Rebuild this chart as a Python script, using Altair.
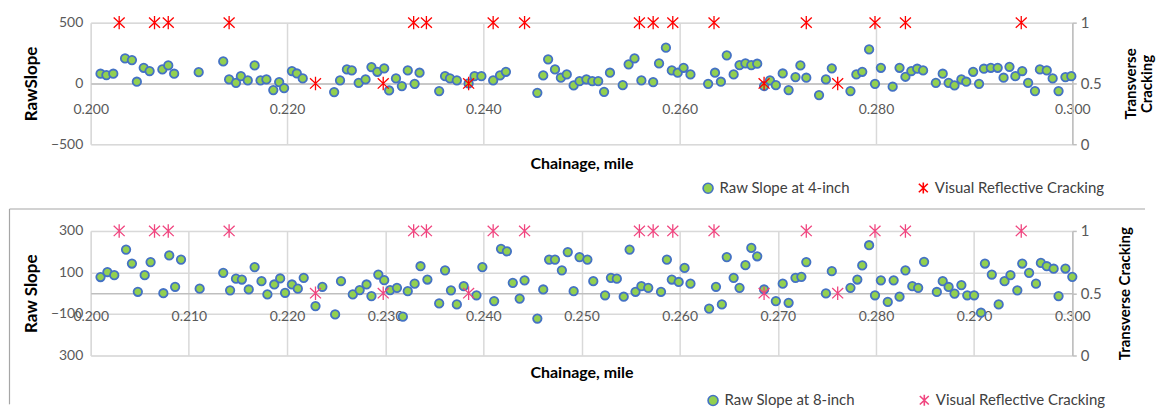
import altair as alt
import pandas as pd

# ---------------- data ----------------
top_ch = [0.2010, 0.2016, 0.2023, 0.2035, 0.2042, 0.2047, 0.2054, 0.2060, 0.2073, 0.2079,
          0.2085, 0.2110, 0.2135, 0.2141, 0.2148, 0.2153, 0.2160, 0.2167, 0.2173, 0.2179,
          0.2186, 0.2192, 0.2197, 0.2205, 0.2210, 0.2216, 0.2248, 0.2254, 0.2261, 0.2266,
          0.2273, 0.2280, 0.2286, 0.2292, 0.2299, 0.2304, 0.2311, 0.2317, 0.2323, 0.2330,
          0.2335, 0.2355, 0.2361, 0.2366, 0.2373, 0.2385, 0.2391, 0.2398, 0.2410, 0.2417,
          0.2423, 0.2455, 0.2461, 0.2466, 0.2473, 0.2479, 0.2485, 0.2492, 0.2498, 0.2505,
          0.2511, 0.2517, 0.2523, 0.2529, 0.2542, 0.2548, 0.2554, 0.2561, 0.2573, 0.2579,
          0.2586, 0.2592, 0.2598, 0.2604, 0.2611, 0.2629, 0.2636, 0.2642, 0.2648, 0.2655,
          0.2661, 0.2667, 0.2673, 0.2679, 0.2686, 0.2692, 0.2698, 0.2705, 0.2711, 0.2718,
          0.2723, 0.2729, 0.2742, 0.2749, 0.2755, 0.2774, 0.2780, 0.2786, 0.2793, 0.2799,
          0.2805, 0.2817, 0.2824, 0.2830, 0.2836, 0.2842, 0.2848, 0.2861, 0.2868, 0.2874,
          0.2880, 0.2887, 0.2892, 0.2899, 0.2905, 0.2910, 0.2917, 0.2924, 0.2930, 0.2936,
          0.2942, 0.2949, 0.2955, 0.2962, 0.2967, 0.2974, 0.2980, 0.2986, 0.2993, 0.2999]
top_slope = [80, 69, 80, 206, 192, 14, 129, 102, 115, 148,
             80, 93, 181, 33, 5, 60, 25, 148, 25, 33,
             -55, 11, -38, 102, 82, 41, -71, 25, 115, 107,
             5, 33, 135, 96, 124, -58, 41, -22, 107, -3,
             88, -63, 60, 41, 25, 0, 60, 60, 25, 66,
             96, -77, 66, 198, 115, 47, 74, -16, 19, 33,
             19, 19, -69, 88, -14, 157, 206, 25, 11, 165,
             294, 107, 88, 129, 74, -3, 88, 14, 231, 74,
             151, 165, 151, 162, -22, 25, -14, 82, -55, 52,
             148, 47, -96, 33, 124, -63, 74, 96, 280, -3,
             129, -27, 129, 55, 102, 121, 107, 5, 80, 5,
             -16, 33, 14, 96, -3, 121, 129, 129, 47, 137,
             60, 102, 5, -63, 115, 107, 41, -63, 52, 60]

bot_ch = [0.2010, 0.2017, 0.2024, 0.2036, 0.2042, 0.2048, 0.2055, 0.2061, 0.2074, 0.2080,
          0.2086, 0.2092, 0.2111, 0.2135, 0.2142, 0.2148, 0.2154, 0.2161, 0.2167, 0.2174,
          0.2180, 0.2187, 0.2193, 0.2198, 0.2205, 0.2211, 0.2217, 0.2229, 0.2236, 0.2249,
          0.2255, 0.2267, 0.2274, 0.2281, 0.2286, 0.2293, 0.2299, 0.2305, 0.2312, 0.2318,
          0.2323, 0.2330, 0.2336, 0.2343, 0.2355, 0.2361, 0.2367, 0.2373, 0.2380, 0.2393,
          0.2399, 0.2411, 0.2418, 0.2424, 0.2430, 0.2437, 0.2442, 0.2455, 0.2461, 0.2467,
          0.2473, 0.2480, 0.2486, 0.2492, 0.2498, 0.2506, 0.2512, 0.2524, 0.2530, 0.2536,
          0.2543, 0.2549, 0.2555, 0.2561, 0.2568, 0.2581, 0.2587, 0.2592, 0.2599, 0.2605,
          0.2611, 0.2630, 0.2637, 0.2643, 0.2648, 0.2655, 0.2661, 0.2667, 0.2673, 0.2679,
          0.2686, 0.2698, 0.2705, 0.2711, 0.2718, 0.2724, 0.2729, 0.2749, 0.2755, 0.2774,
          0.2781, 0.2786, 0.2793, 0.2799, 0.2805, 0.2812, 0.2818, 0.2824, 0.2830, 0.2837,
          0.2843, 0.2849, 0.2862, 0.2868, 0.2874, 0.2880, 0.2887, 0.2893, 0.2900, 0.2907,
          0.2911, 0.2918, 0.2925, 0.2931, 0.2937, 0.2944, 0.2949, 0.2956, 0.2963, 0.2968,
          0.2974, 0.2981, 0.2986, 0.2993, 0.3000]
bot_slope = [78, 102, 87, 210, 143, 7, 87, 150, 0, 182,
             31, 162, 22, 98, 14, 70, 66, 18, 126, 58,
             -6, 42, 71, 2, 42, 22, 74, -62, 31, -102,
             58, -6, 15, 42, -14, 90, 63, 15, 26, -113,
             10, 46, 130, 66, -49, 110, 14, -54, 34, -10,
             126, -38, 214, 202, 50, -26, 62, -122, 18, 162,
             162, 110, 198, 10, 174, 162, 58, -10, 74, 70,
             -17, 210, 7, 34, 26, 7, 162, 66, 54, 122,
             46, -74, 31, -54, 174, 74, 26, 135, 218, 178,
             18, -38, 46, -46, 74, 79, 150, -1, 106, 26,
             66, 134, 231, -10, 62, -42, 62, -17, 110, 34,
             26, 151, 6, 58, 30, -2, 39, -10, -10, -94,
             143, 90, -54, 58, 87, 14, 143, 98, 46, 146,
             130, 118, -14, 119, 79]

crack_ch = [0.2029, 0.2065, 0.2079, 0.2141, 0.2229, 0.2298, 0.2329, 0.2342, 0.2385, 0.2410,
            0.2442, 0.2559, 0.2573, 0.2593, 0.2635, 0.2686, 0.2729, 0.2761, 0.2799, 0.2830,
            0.2948]
crack_val = [1, 1, 1, 1, 0.5, 0.5, 1, 1, 0.5, 1,
             1, 1, 1, 1, 1, 0.5, 1, 0.5, 1, 1,
             1]

top_x_ticks = [0.20, 0.22, 0.24, 0.26, 0.28, 0.30]
bot_x_ticks = [0.20, 0.21, 0.22, 0.23, 0.24, 0.25, 0.26, 0.27, 0.28, 0.29, 0.30]
top_y_ticks = [-500, 0, 500]
bot_y_ticks = [-300, -100, 100, 300]
crack_ticks = [0, 0.5, 1]
CRACK_NAME = "Visual Reflective Cracking"

# ---------------- style ----------------
FONT = "Lato"
GRID = "#D9D9D9"
AXC = "#BFBFBF"
LBL = "#595959"
STAR = "M-0.9,-0.85L0.9,0.85M-0.9,0.85L0.9,-0.85M0,-1.1L0,1.1"
PLOT_W = 985


def panel(ch, slope, series_name, y_title, y_dom, y_ticks, x_ticks, plot_h,
          crack_color, right_title, r_title_pad, x_lab_pad, x_title_pad,
          leg_x, leg_y, col_pad, y_label_expr=None, frame=False):
    pts = pd.DataFrame({"ch": ch, "v": slope, "series": series_name})
    cr = pd.DataFrame({"ch": crack_ch, "c": crack_val, "series": CRACK_NAME})
    dom = [series_name, CRACK_NAME]

    legend = alt.Legend(orient="none", legendX=leg_x, legendY=leg_y,
                        direction="horizontal", title=None, labelFont=FONT,
                        labelFontSize=15, labelColor="#404040", labelLimit=400,
                        columnPadding=col_pad, symbolSize=100,
                        symbolStrokeWidth=1.6, symbolOpacity=1, labelOffset=4,
                        padding=0)
    fill = alt.Fill("series:N", scale=alt.Scale(domain=dom, range=["#92D050", "transparent"]),
                    legend=legend)
    stroke = alt.Stroke("series:N", scale=alt.Scale(domain=dom, range=["#4472C4", crack_color]),
                        legend=legend)
    shape = alt.Shape("series:N", scale=alt.Scale(domain=dom, range=["circle", STAR]),
                      legend=legend)

    x_scale = alt.Scale(domain=[0.2, 0.3], nice=False, zero=False)
    x_offset = -plot_h / 2.0
    x_axis = alt.Axis(values=x_ticks, format=".3f", title="Chainage, mile",
                      offset=x_offset, ticks=False, domain=True, domainColor=AXC,
                      domainWidth=1.5, grid=True, gridColor=GRID, gridWidth=1.5,
                      labelOverlap=False, labelFlush=False, labelPadding=x_lab_pad,
                      labelFont=FONT, labelFontSize=14, labelColor=LBL,
                      titleFont=FONT, titleFontSize=16, titleFontWeight="bold",
                      titleColor="#000000", titlePadding=x_title_pad)
    y_kw = dict(values=y_ticks, title=y_title, ticks=False, domain=False, grid=True,
                gridColor=GRID, gridWidth=1.5, labelPadding=8, labelFont=FONT,
                labelFontSize=14, labelColor=LBL, titleFont=FONT, titleFontSize=17,
                titleFontWeight="bold", titleColor="#000000", titlePadding=10)
    if y_label_expr:
        y_kw["labelExpr"] = y_label_expr
    y_axis = alt.Axis(**y_kw)

    r_axis = alt.Axis(orient="right", values=crack_ticks, format="~g", title=right_title,
                      titleAngle=270, titleBaseline="top", ticks=True, tickSize=4,
                      tickColor=AXC, tickWidth=1.5, domain=True, domainColor=AXC,
                      domainWidth=1.5, grid=False, labelPadding=4, labelFont=FONT,
                      labelFontSize=15, labelColor=LBL, titleFont=FONT,
                      titleFontSize=15, titleFontWeight="bold", titleColor="#000000",
                      titlePadding=r_title_pad, titleLineHeight=17)

    x_enc = alt.X("ch:Q", scale=x_scale, axis=x_axis)
    pts_layer = alt.Chart(pts).mark_point(size=72, strokeWidth=1.8, opacity=1).encode(
        x=x_enc,
        y=alt.Y("v:Q", scale=alt.Scale(domain=y_dom, nice=False), axis=y_axis),
        fill=fill, stroke=stroke, shape=shape,
    )
    crack_layer = alt.Chart(cr).mark_point(size=150, strokeWidth=1.3, opacity=1).encode(
        x=x_enc,
        y=alt.Y("c:Q", scale=alt.Scale(domain=[0, 1], nice=False), axis=r_axis),
        fill=fill, stroke=stroke, shape=shape,
    )
    layers = [pts_layer, crack_layer]
    if frame:
        one = pd.DataFrame({"k": [0]})
        layers.append(alt.Chart(one).mark_rule(color="#A6A6A6", strokeWidth=1.2).encode(
            x=alt.value(-81.5), x2=alt.value(1058), y=alt.value(-22)))
        layers.append(alt.Chart(one).mark_rule(color="#A6A6A6", strokeWidth=1.2).encode(
            x=alt.value(-81.5), y=alt.value(-22), y2=alt.value(174)))
    return alt.layer(*layers).resolve_scale(y="independent").properties(
        width=PLOT_W, height=plot_h)


top = panel(top_ch, top_slope, "Raw Slope at 4-inch", "RawSlope", [-500, 500],
            top_y_ticks, top_x_ticks, 122, "#FF0000", ["Transverse", "Cracking"], 5,
            19, 39, 612, 158, 65)
bot = panel(bot_ch, bot_slope, "Raw Slope at 8-inch", "Raw Slope", [-300, 300],
            bot_y_ticks, bot_x_ticks, 125, "#F0457F", "Transverse Cracking", 16,
            16, 42, 617, 162, 61,
            y_label_expr="datum.value == -300 ? '300' : datum.label", frame=True)

chart = alt.vconcat(top, bot, spacing=9).resolve_scale(
    fill="independent", stroke="independent", shape="independent", x="independent"
).resolve_legend(
    fill="independent", stroke="independent", shape="independent"
).properties(
    padding={"left": 0, "top": 4, "right": 0, "bottom": -1}
).configure_view(stroke=None).configure(background="white")

chart.save("out.html", embed_options={"renderer": "svg", "actions": False})
